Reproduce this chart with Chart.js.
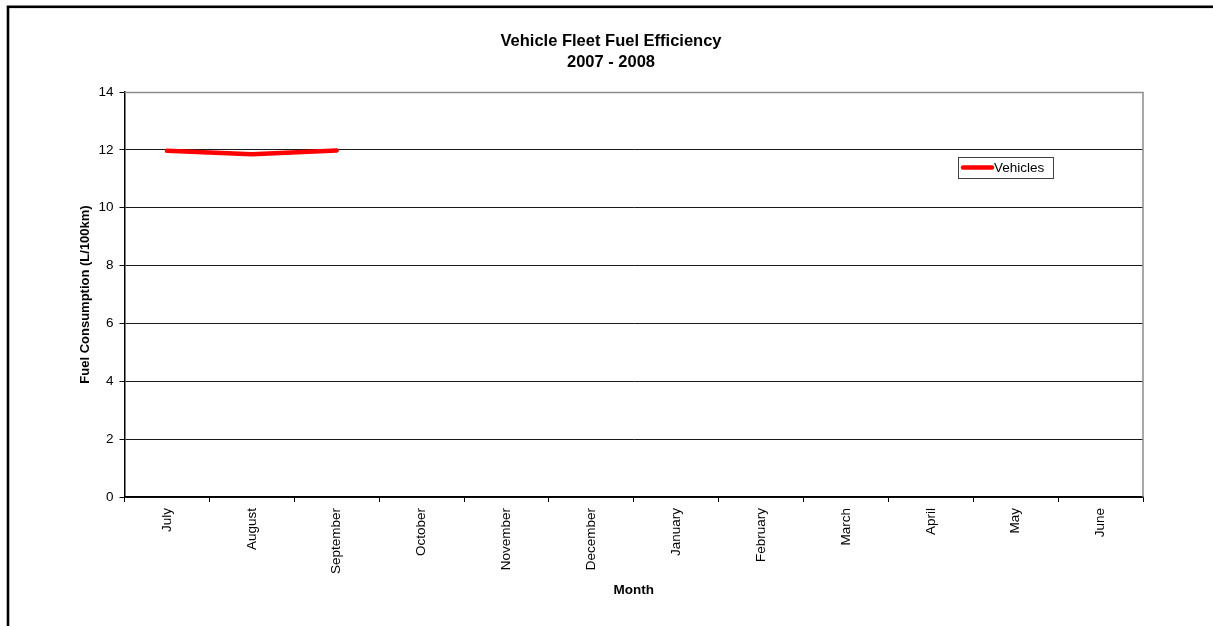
<!DOCTYPE html>
<html>
<head>
<meta charset="utf-8">
<title>Vehicle Fleet Fuel Efficiency 2007 - 2008</title>
<script src="https://cdn.jsdelivr.net/npm/chart.js@4.4.1/dist/chart.umd.min.js"></script>
<style>
  html, body { margin: 0; padding: 0; background: #ffffff; }
  #wrap { width: 1213px; height: 626px; position: relative; }
</style>
</head>
<body>
<div id="wrap"><canvas id="chart" width="1213" height="626"></canvas></div>
<script>
// Financial year months (July to June)
const months = ['July', 'August', 'September', 'October', 'November', 'December',
                'January', 'February', 'March', 'April', 'May', 'June'];
// Fleet fuel consumption, L/100km (only the first quarter reported so far)
const vehicles = [11.97, 11.85, 11.98, null, null, null, null, null, null, null, null, null];
// Value axis range
const yMin = 0;
const yMax = 14;
const yStep = 2;

const titleLines = ['Vehicle Fleet Fuel Efficiency', '2007 - 2008'];
const FONT = '"Liberation Sans", Arial, Helvetica, sans-serif';

// Outer frame, plot frame, title and the boxed legend
const decorations = {
  id: 'decorations',
  afterDraw(chart) {
    const ctx = chart.ctx;
    const area = chart.chartArea;
    ctx.save();

    // outer frame
    ctx.strokeStyle = '#000000';
    ctx.lineWidth = 2.6;
    ctx.strokeRect(8, 6.8, 1240, 700);

    // top and right edges of the plot area
    ctx.strokeStyle = '#8c8c8c';
    ctx.lineWidth = 1.5;
    ctx.beginPath();
    ctx.moveTo(area.left, area.top + 0.5);
    ctx.lineTo(area.right, area.top + 0.5);
    ctx.lineTo(area.right, area.bottom);
    ctx.stroke();

    // title
    ctx.fillStyle = '#000000';
    ctx.font = 'bold 16.5px ' + FONT;
    ctx.textAlign = 'center';
    ctx.textBaseline = 'middle';
    ctx.fillText(titleLines[0], 611, 41);
    ctx.fillText(titleLines[1], 611, 62);

    // legend
    const ds = chart.data.datasets[0];
    const lx = 958, ly = 157, lw = 95, lh = 21;
    ctx.fillStyle = '#ffffff';
    ctx.fillRect(lx, ly, lw, lh);
    ctx.strokeStyle = '#404040';
    ctx.lineWidth = 1;
    ctx.strokeRect(lx + 0.5, ly + 0.5, lw, lh);
    ctx.strokeStyle = ds.borderColor;
    ctx.lineWidth = 4.5;
    ctx.lineCap = 'round';
    ctx.beginPath();
    ctx.moveTo(lx + 5, ly + 10.5);
    ctx.lineTo(lx + 34, ly + 10.5);
    ctx.stroke();
    ctx.fillStyle = '#000000';
    ctx.font = '13.5px ' + FONT;
    ctx.textAlign = 'left';
    ctx.fillText(ds.label, lx + 36, ly + 11);

    ctx.restore();
  }
};

new Chart(document.getElementById('chart'), {
  type: 'line',
  data: {
    labels: months,
    datasets: [{
      label: 'Vehicles',
      data: vehicles,
      borderColor: '#ff0000',
      backgroundColor: '#ff0000',
      borderWidth: 4.5,
      borderCapStyle: 'round',
      borderJoinStyle: 'round',
      pointRadius: 0,
      pointHoverRadius: 0,
      tension: 0,
      spanGaps: false,
      fill: false
    }]
  },
  options: {
    responsive: false,
    animation: false,
    events: [],
    layout: { padding: { top: 92, right: 70, bottom: 0, left: 0 } },
    plugins: {
      legend: { display: false },
      title: { display: false },
      tooltip: { enabled: false }
    },
    scales: {
      x: {
        type: 'category',
        offset: true,
        afterFit(scale) { scale.height = 129; },
        grid: {
          offset: true,
          drawOnChartArea: false,
          drawTicks: true,
          tickLength: 5,
          tickWidth: 1,
          tickColor: '#000000'
        },
        border: { display: true, color: '#000000', width: 1.5 },
        ticks: {
          autoSkip: false,
          minRotation: 90,
          maxRotation: 90,
          padding: 6,
          color: '#000000',
          font: { family: FONT, size: 13.5 }
        },
        title: {
          display: true,
          text: 'Month',
          color: '#000000',
          font: { family: FONT, size: 13.5, weight: 'bold' },
          padding: { top: 0, bottom: 28 }
        }
      },
      y: {
        min: yMin,
        max: yMax,
        afterFit(scale) { scale.width = 124.5; },
        grid: {
          color: (c) => (c.tick && c.tick.value === yMax) ? 'rgba(0,0,0,0)' : '#1a1a1a',
          lineWidth: 1,
          drawTicks: true,
          tickLength: 5,
          tickColor: '#000000'
        },
        border: { display: true, color: '#000000', width: 1.5 },
        ticks: {
          stepSize: yStep,
          padding: 6,
          color: '#000000',
          font: { family: FONT, size: 13.5 }
        },
        title: {
          display: true,
          text: 'Fuel Consumption (L/100km)',
          color: '#000000',
          font: { family: FONT, size: 13, weight: 'bold' },
          padding: { top: 78, bottom: 0 }
        }
      }
    }
  },
  plugins: [decorations]
});
</script>
</body>
</html>
